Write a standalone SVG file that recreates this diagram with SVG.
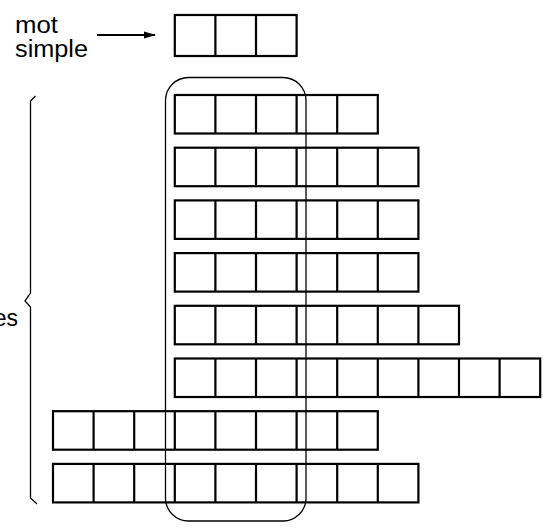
<svg xmlns="http://www.w3.org/2000/svg" width="549" height="528" viewBox="0 0 549 528">
<defs>
<style>
.cell{fill:none;stroke:#000;stroke-width:2.2}
.lbl{font-family:"Liberation Sans",Arial,sans-serif;font-size:23px;fill:#000}
.thin{fill:none;stroke:#000;stroke-width:1.3}
</style>
<marker id="ah" markerWidth="12" markerHeight="8" refX="11" refY="4" orient="auto" markerUnits="userSpaceOnUse">
<path d="M0,0.5 L12,4 L0,7.5 Z" fill="#000"/>
</marker>
</defs>
<rect width="549" height="528" fill="#fff"/>
<g id="label-mot-simple">
<text class="lbl" x="15" y="33" textLength="43" lengthAdjust="spacingAndGlyphs">mot</text>
<text class="lbl" x="15" y="57" textLength="73" lengthAdjust="spacingAndGlyphs">simple</text>
</g>
<g id="label-es">
<text class="lbl" x="18" y="326" text-anchor="end">es</text>
</g>
<g id="top-word">
<rect class="cell" x="174.8" y="15" width="121.8" height="41"/>
<path class="cell" d="M215.4,15V56M256,15V56"/>
</g>
<g id="row1">
<rect class="cell" x="174.8" y="95" width="203" height="38.5"/>
<path class="cell" d="M215.4,95v38.5M256,95v38.5M296.6,95v38.5M337.2,95v38.5"/>
</g>
<g id="row2">
<rect class="cell" x="174.8" y="147.7" width="243.6" height="38.5"/>
<path class="cell" d="M215.4,147.7v38.5M256,147.7v38.5M296.6,147.7v38.5M337.2,147.7v38.5M377.8,147.7v38.5"/>
</g>
<g id="row3">
<rect class="cell" x="174.8" y="200.4" width="243.6" height="38.5"/>
<path class="cell" d="M215.4,200.4v38.5M256,200.4v38.5M296.6,200.4v38.5M337.2,200.4v38.5M377.8,200.4v38.5"/>
</g>
<g id="row4">
<rect class="cell" x="174.8" y="253.1" width="243.6" height="38.5"/>
<path class="cell" d="M215.4,253.1v38.5M256,253.1v38.5M296.6,253.1v38.5M337.2,253.1v38.5M377.8,253.1v38.5"/>
</g>
<g id="row5">
<rect class="cell" x="174.8" y="305.8" width="284.2" height="38.5"/>
<path class="cell" d="M215.4,305.8v38.5M256,305.8v38.5M296.6,305.8v38.5M337.2,305.8v38.5M377.8,305.8v38.5M418.4,305.8v38.5"/>
</g>
<g id="row6">
<rect class="cell" x="174.8" y="358.5" width="365.4" height="38.5"/>
<path class="cell" d="M215.4,358.5v38.5M256,358.5v38.5M296.6,358.5v38.5M337.2,358.5v38.5M377.8,358.5v38.5M418.4,358.5v38.5M459,358.5v38.5M499.6,358.5v38.5"/>
</g>
<g id="row7">
<rect class="cell" x="53" y="411.2" width="324.8" height="38.5"/>
<path class="cell" d="M93.6,411.2v38.5M134.2,411.2v38.5M174.8,411.2v38.5M215.4,411.2v38.5M256,411.2v38.5M296.6,411.2v38.5M337.2,411.2v38.5"/>
</g>
<g id="row8">
<rect class="cell" x="53" y="463.9" width="365.4" height="38.5"/>
<path class="cell" d="M93.6,463.9v38.5M134.2,463.9v38.5M174.8,463.9v38.5M215.4,463.9v38.5M256,463.9v38.5M296.6,463.9v38.5M337.2,463.9v38.5M377.8,463.9v38.5"/>
</g>
<g id="root-frame">
<rect class="thin" x="165.5" y="77.5" width="140.5" height="443.5" rx="23" ry="23"/>
</g>
<g id="brace">
<path class="thin" stroke-width="1.6" d="M35.5,96 L30.5,101 V293 L25,301 L30.5,307 V498 L37,504"/>
</g>
<g id="connectors">
<line x1="97" y1="35" x2="155" y2="35" stroke="#000" stroke-width="2" marker-end="url(#ah)"/>
</g>
</svg>
